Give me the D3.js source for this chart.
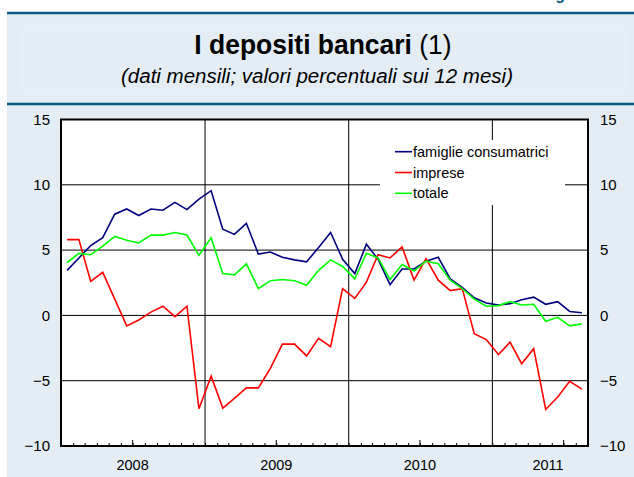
<!DOCTYPE html>
<html>
<head>
<meta charset="utf-8">
<script src="https://cdn.jsdelivr.net/npm/d3@7"></script>
<style>
  body { margin: 0; background: #fff; }
  svg { display: block; font-family: "Liberation Sans", Arial, sans-serif; }
</style>
</head>
<body>
<div id="chart"></div>
<script>
// Chart data (monthly, Jan 2008 - Aug 2011, 12-month % change)
const startMonth = new Date(2008, 0, 1);
const endMonth = new Date(2011, 8, 1);
const yearLabels = ["2008", "2009", "2010", "2011"];
const yTicks = [-10, -5, 0, 5, 10, 15];
const seriesNames = ["famiglie consumatrici", "imprese", "totale"];
const seriesColors = ["#000080", "#ff0000", "#00ff00"];

const famiglie = [3.45, 4.4, 5.35, 5.95, 7.75, 8.15, 7.65, 8.15, 8.05, 8.65, 8.1, 8.9,
  9.55, 6.6, 6.2, 7.05, 4.7, 4.85, 4.45, 4.25, 4.1, 5.2, 6.35, 4.3,
  3.2, 5.45, 4.3, 2.35, 3.55, 3.55, 4.15, 4.45, 2.8, 2.15, 1.35, 0.95,
  0.8, 0.9, 1.2, 1.4, 0.85, 1.05, 0.3, 0.2];
const imprese = [5.8, 5.8, 2.6, 3.3, 1.25, -0.8, -0.35, 0.25, 0.7, -0.1, 0.7, -7.15,
  -4.65, -7.1, -6.35, -5.55, -5.55, -4.05, -2.2, -2.2, -3.1, -1.75, -2.4, 2.05,
  1.3, 2.55, 4.65, 4.4, 5.25, 2.7, 4.35, 2.7, 1.9, 2.05, -1.4, -1.85,
  -3.0, -2.05, -3.7, -2.55, -7.2, -6.25, -5.05, -5.65];
const totale = [4.05, 4.75, 4.65, 5.3, 6.05, 5.75, 5.55, 6.15, 6.15, 6.35, 6.15, 4.6,
  5.95, 3.2, 3.1, 3.95, 2.05, 2.65, 2.75, 2.65, 2.3, 3.45, 4.25, 3.75,
  2.8, 4.75, 4.4, 2.75, 3.9, 3.4, 4.15, 3.95, 2.7, 2.05, 1.25, 0.7,
  0.75, 1.05, 0.8, 0.85, -0.45, -0.15, -0.8, -0.65];

const W = 634, H = 477;
const plot = {left: 61, right: 588, top: 119.5, bottom: 446};

const svg = d3.select("#chart").append("svg")
    .attr("width", W)
    .attr("height", H);

// background panel
svg.append("rect")
    .attr("x", 7).attr("y", 12)
    .attr("width", W - 7).attr("height", H - 12)
    .attr("fill", "#e4edf4");
svg.append("rect")
    .attr("x", 23).attr("y", 28)
    .attr("width", 602).attr("height", 61)
    .attr("fill", "none").attr("stroke", "#eaf1f6");

// header rules
[13, 104].forEach(y => {
    svg.append("line")
        .attr("x1", 7).attr("x2", W)
        .attr("y1", y).attr("y2", y)
        .attr("stroke", "#0b5a84")
        .attr("stroke-width", 2.5);
});

// cropped header word at top right
svg.append("text")
    .attr("x", 541).attr("y", -0.5)
    .attr("font-size", 16).attr("font-weight", "bold")
    .attr("fill", "#0b5a84")
    .text("Figura");

// title (slightly condensed like the original)
const title = svg.append("text")
    .attr("transform", `translate(${W / 2 + 6},54) scale(0.945,1)`)
    .attr("text-anchor", "middle")
    .attr("font-size", 28)
    .attr("fill", "#000");
title.append("tspan").attr("font-weight", "bold").text("I depositi bancari");
title.append("tspan").text(" (1)");

svg.append("text")
    .attr("x", W / 2).attr("y", 83)
    .attr("text-anchor", "middle")
    .attr("font-size", 20.5)
    .attr("font-style", "italic")
    .attr("fill", "#000")
    .text("(dati mensili; valori percentuali sui 12 mesi)");

// scales
const months = d3.timeMonth.range(startMonth, endMonth);
const midMonth = m => new Date((m.getTime() + d3.timeMonth.offset(m, 1).getTime()) / 2);

const x = d3.scaleTime()
    .domain([startMonth, endMonth])
    .range([plot.left, plot.right]);

const y = d3.scaleLinear()
    .domain([-10, 15])
    .range([plot.bottom, plot.top]);

// plot area
svg.append("rect")
    .attr("x", plot.left).attr("y", plot.top)
    .attr("width", plot.right - plot.left)
    .attr("height", plot.bottom - plot.top)
    .attr("fill", "#fff");

// gridlines
const grid = svg.append("g").attr("stroke", "#000").attr("stroke-width", 1);
grid.selectAll(".hgrid")
    .data(yTicks.filter(d => d > -10 && d < 15))
    .join("line")
    .attr("class", "hgrid")
    .attr("x1", plot.left).attr("x2", plot.right)
    .attr("y1", d => y(d)).attr("y2", d => y(d));

grid.selectAll(".vgrid")
    .data(yearLabels.slice(1).map(yr => new Date(+yr, 0, 1)))
    .join("line")
    .attr("class", "vgrid")
    .attr("x1", d => x(d)).attr("x2", d => x(d))
    .attr("y1", plot.top).attr("y2", plot.bottom);

// legend box (covers gridlines)
const legend = svg.append("g").attr("transform", "translate(380,140)");
legend.append("rect")
    .attr("width", 185).attr("height", 65)
    .attr("fill", "#fff");
seriesNames.forEach((name, i) => {
    const row = legend.append("g").attr("transform", `translate(0,${11.7 + i * 20.8})`);
    row.append("line")
        .attr("x1", 15).attr("x2", 32)
        .attr("stroke", seriesColors[i])
        .attr("stroke-width", 1.6);
    row.append("text")
        .attr("x", 33).attr("y", 5)
        .attr("font-size", 14.5)
        .attr("fill", "#000")
        .text(name);
});

// lines
const line = d3.line()
    .x((d, i) => x(midMonth(months[i])))
    .y(d => y(d));

[famiglie, imprese, totale].forEach((values, i) => {
    svg.append("path")
        .datum(values)
        .attr("fill", "none")
        .attr("stroke", seriesColors[i])
        .attr("stroke-width", 1.6)
        .attr("stroke-linejoin", "miter")
        .attr("d", line);
});

// x axis: monthly minor ticks, mid-year major ticks, year labels
const xAxis = svg.append("g").attr("transform", `translate(0,${plot.bottom})`);
xAxis.call(d3.axisBottom(x)
        .tickValues(months.concat([endMonth]))
        .tickSize(-3)
        .tickFormat(""))
    .call(g => g.select(".domain").remove())
    .call(g => g.selectAll(".tick line").attr("stroke", "#000"));

const majorTicks = yearLabels.map(yr => new Date(+yr, 6, 1));
xAxis.selectAll(".major")
    .data(majorTicks)
    .join("line")
    .attr("class", "major")
    .attr("x1", d => x(d)).attr("x2", d => x(d))
    .attr("y1", 0).attr("y2", -6)
    .attr("stroke", "#000");

// labels sit under the mid-year tick, kept clear of the right axis
xAxis.selectAll(".year")
    .data(majorTicks)
    .join("text")
    .attr("class", "year")
    .attr("x", d => Math.min(x(d), plot.right - 40))
    .attr("y", 24)
    .attr("text-anchor", "middle")
    .attr("font-size", 14.5)
    .attr("fill", "#000")
    .text((d, i) => yearLabels[i]);

// y axes, left and right
const yLeft = svg.append("g").attr("transform", `translate(${plot.left - 11},0)`);
yLeft.call(d3.axisLeft(y).tickValues(yTicks).tickSize(0).tickPadding(0))
    .call(g => g.select(".domain").remove())
    .call(g => g.selectAll("text").attr("font-size", 15).attr("fill", "#000")
        .attr("font-family", "Liberation Sans, Arial, sans-serif"));

const yRight = svg.append("g").attr("transform", `translate(${plot.right + 12},0)`);
yRight.call(d3.axisRight(y).tickValues(yTicks).tickSize(0).tickPadding(0))
    .call(g => g.select(".domain").remove())
    .call(g => g.selectAll("text").attr("font-size", 15).attr("fill", "#000")
        .attr("font-family", "Liberation Sans, Arial, sans-serif"));

// frame
svg.append("rect")
    .attr("x", plot.left).attr("y", plot.top)
    .attr("width", plot.right - plot.left)
    .attr("height", plot.bottom - plot.top)
    .attr("fill", "none")
    .attr("stroke", "#000")
    .attr("stroke-width", 2);
</script>
</body>
</html>
